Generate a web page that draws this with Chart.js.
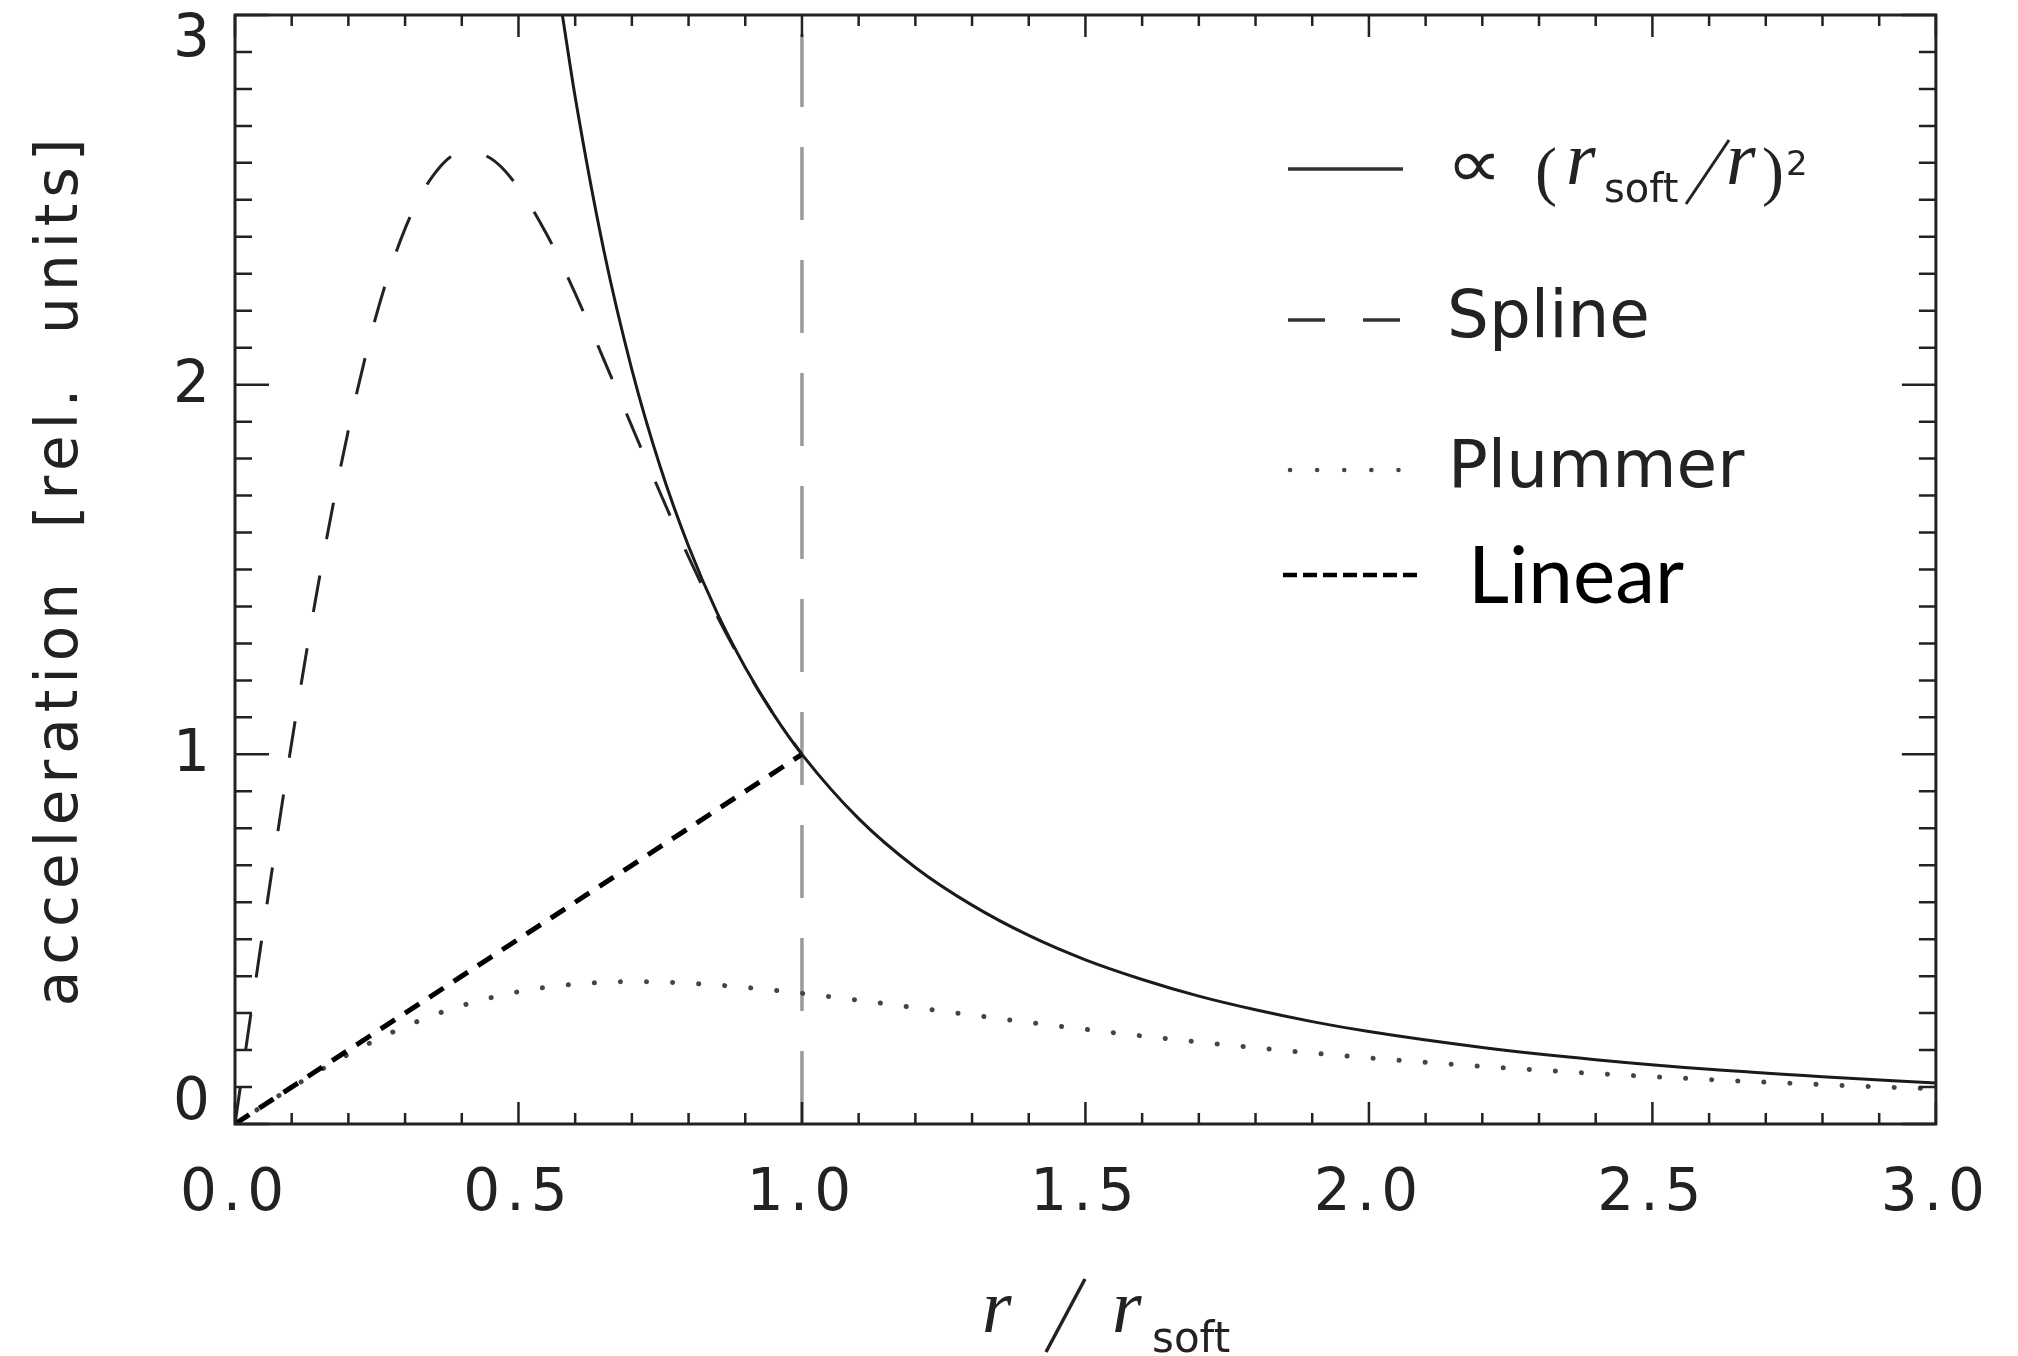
<!DOCTYPE html>
<html>
<head>
<meta charset="utf-8">
<title>Softened acceleration</title>
<script src="https://cdn.jsdelivr.net/npm/chart.js@4.4.1/dist/chart.umd.min.js"></script>
<style>
  html, body { margin: 0; padding: 0; background: #fff; }
  canvas { display: block; }
</style>
</head>
<body>
<canvas id="myChart" width="2018" height="1356"></canvas>
<script>
// r / r_soft and acceleration for each curve
const rPower = [0.5774, 0.6, 0.65, 0.7, 0.75, 0.8, 0.85, 0.9, 0.95, 1.0, 1.1, 1.2, 1.3, 1.4, 1.5, 1.6, 1.7, 1.8, 1.9, 2.0, 2.2, 2.4, 2.6, 2.8, 3.0];
const aPower = [3.0, 2.778, 2.367, 2.041, 1.778, 1.563, 1.384, 1.235, 1.108, 1.0, 0.826, 0.694, 0.592, 0.510, 0.444, 0.391, 0.346, 0.309, 0.277, 0.250, 0.207, 0.174, 0.148, 0.128, 0.111];

const rSpline = [0, 0.02, 0.05, 0.1, 0.15, 0.2, 0.25, 0.3, 0.35, 0.4, 0.45, 0.5, 0.55, 0.6, 0.65, 0.7, 0.75, 0.8, 0.85, 0.9, 0.95, 1.0];
const aSpline = [0, 0.213, 0.529, 1.032, 1.487, 1.877, 2.192, 2.422, 2.567, 2.628, 2.613, 2.533, 2.406, 2.247, 2.070, 1.887, 1.707, 1.534, 1.375, 1.233, 1.108, 1.0];

const rPlummer = [0, 0.1, 0.2, 0.3, 0.4, 0.5, 0.6, 0.7, 0.8, 0.9, 1.0, 1.2, 1.4, 1.6, 1.8, 2.0, 2.2, 2.4, 2.6, 2.8, 3.0];
const aPlummer = [0, 0.0985, 0.1886, 0.2636, 0.3202, 0.3578, 0.3783, 0.3849, 0.3809, 0.3696, 0.3536, 0.3149, 0.2749, 0.2382, 0.2062, 0.1789, 0.1559, 0.1366, 0.1203, 0.1065, 0.0949];

const rLinear = [0, 1];
const aLinear = [0, 1];

const rSoft = [1, 1];
const aSoft = [0, 3];

const yTickLabels = ['0', '1', '2', '3'];

const SANS = '"DejaVu Sans", sans-serif';
const SERIF = '"Liberation Serif", "DejaVu Serif", serif';

function pts(xs, ys) {
    return xs.map((x, i) => ({ x: x, y: ys[i] }));
}

// wider letter spacing for the axis text drawn by the scales
const spacing = {
    id: 'spacing',
    beforeDraw(chart) { chart.ctx.letterSpacing = '6px'; },
    beforeDatasetsDraw(chart) { chart.ctx.letterSpacing = '0px'; }
};

// box with inward ticks on all four sides, y labels, x title and legend
const frame = {
    id: 'frame',
    afterDraw(chart) {
        const ctx = chart.ctx;
        const a = chart.chartArea;
        const xs = chart.scales.x;
        const ys = chart.scales.y;
        ctx.save();
        ctx.strokeStyle = '#222';
        ctx.lineWidth = 3;
        ctx.strokeRect(a.left, a.top, a.right - a.left, a.bottom - a.top);

        ctx.lineWidth = 2.5;
        ctx.beginPath();
        for (let i = 0; i <= 30; i++) {
            const v = i / 10;
            const px = xs.getPixelForValue(v);
            const lx = i % 5 === 0 ? 22 : 11;
            ctx.moveTo(px, a.bottom); ctx.lineTo(px, a.bottom - lx);
            ctx.moveTo(px, a.top); ctx.lineTo(px, a.top + lx);
            const py = ys.getPixelForValue(v);
            const ly = i % 10 === 0 ? 34 : 17;
            ctx.moveTo(a.left, py); ctx.lineTo(a.left + ly, py);
            ctx.moveTo(a.right, py); ctx.lineTo(a.right - ly, py);
        }
        ctx.stroke();

        // y tick labels, kept inside the box height
        ctx.fillStyle = '#222';
        ctx.font = '58px ' + SANS;
        ctx.textAlign = 'right';
        ctx.textBaseline = 'middle';
        yTickLabels.forEach(t => {
            let py = ys.getPixelForValue(Number(t));
            py = Math.min(Math.max(py + 2, a.top + 26), a.bottom - 20);
            ctx.fillText(t, 210, py);
        });

        // x axis title: r / r_soft
        ctx.textAlign = 'left';
        ctx.textBaseline = 'alphabetic';
        ctx.font = 'italic 76px ' + SERIF;
        ctx.fillText('r', 982, 1332);
        ctx.fillText('r', 1112, 1332);
        ctx.font = '42px ' + SANS;
        ctx.fillText('soft', 1152, 1352);
        ctx.lineWidth = 3.5;
        ctx.beginPath();
        ctx.moveTo(1046, 1352); ctx.lineTo(1085, 1279);
        ctx.stroke();

        // legend samples
        const sample = (x0, x1, y, dash, w, color, cap) => {
            ctx.save();
            ctx.strokeStyle = color;
            ctx.lineWidth = w;
            ctx.lineCap = cap || 'butt';
            ctx.setLineDash(dash);
            ctx.beginPath();
            ctx.moveTo(x0, y); ctx.lineTo(x1, y);
            ctx.stroke();
            ctx.restore();
        };
        sample(1288, 1403, 169, [], 3.5, '#333');
        sample(1288, 1403, 320, [37, 38], 3.5, '#333');
        sample(1290, 1403, 470, [0.1, 27], 4.5, '#444', 'round');
        sample(1283, 1420, 575, [14, 6], 4.5, '#000');

        // legend texts; the proportional sign is sized from its ink box
        ctx.fillStyle = '#222';
        ctx.font = '100px ' + SANS;
        ctx.textBaseline = 'alphabetic';
        const m = ctx.measureText('\u221d');
        const gw = m.actualBoundingBoxLeft + m.actualBoundingBoxRight;
        const gh = m.actualBoundingBoxAscent + m.actualBoundingBoxDescent;
        const k = 40 / gw;
        ctx.save();
        ctx.translate(1454, 166);
        ctx.scale(k, Math.min(k, 26 / gh));
        ctx.fillText('\u221d', m.actualBoundingBoxLeft, (m.actualBoundingBoxAscent - m.actualBoundingBoxDescent) / 2);
        ctx.restore();

        ctx.font = '66px ' + SERIF;
        ctx.fillText('(', 1535, 193);
        ctx.fillText(')', 1762, 193);
        ctx.font = 'italic 76px ' + SERIF;
        ctx.fillText('r', 1566, 184);
        ctx.fillText('r', 1726, 184);
        ctx.font = '40px ' + SANS;
        ctx.fillText('soft', 1604, 202);
        ctx.font = '34px ' + SANS;
        ctx.fillText('2', 1786, 175);
        ctx.lineWidth = 3;
        ctx.beginPath();
        ctx.moveTo(1686, 204); ctx.lineTo(1729, 140);
        ctx.stroke();

        ctx.font = '66px ' + SANS;
        ctx.fillText('Spline', 1447, 337);
        ctx.fillText('Plummer', 1448, 487);
        ctx.fillStyle = '#000';
        ctx.font = '80px Lato, ' + SANS;
        ctx.fillText('Linear', 1468, 603);
        ctx.restore();
    }
};

const data = {
    datasets: [
        {
            label: 'power',
            data: pts(rPower, aPower),
            borderColor: '#1a1a1a',
            borderWidth: 3,
            cubicInterpolationMode: 'monotone'
        },
        {
            label: 'Linear',
            data: pts(rLinear, aLinear),
            borderColor: '#000',
            borderWidth: 5,
            borderDash: [17, 12]
        },
        {
            label: 'Spline',
            data: pts(rSpline, aSpline),
            borderColor: '#222',
            borderWidth: 3,
            borderDash: [37, 37],
            cubicInterpolationMode: 'monotone'
        },
        {
            label: 'Plummer',
            data: pts(rPlummer, aPlummer),
            borderColor: '#444',
            borderWidth: 5,
            borderDash: [0.1, 26],
            borderCapStyle: 'round',
            cubicInterpolationMode: 'monotone'
        },
        {
            label: 'r_soft',
            data: pts(rSoft, aSoft),
            borderColor: '#9a9a9a',
            borderWidth: 3.5,
            borderDash: [73, 40]
        }
    ]
};

const config = {
    type: 'scatter',
    data: data,
    options: {
        responsive: false,
        animation: false,
        showLine: true,
        elements: { point: { radius: 0 } },
        layout: { padding: { top: 15, right: 62, left: 0, bottom: 0 } },
        scales: {
            x: {
                type: 'linear',
                min: 0,
                max: 3,
                grid: { display: false, drawTicks: false },
                border: { display: false },
                ticks: {
                    stepSize: 0.5,
                    padding: 36,
                    color: '#222',
                    font: { family: SANS, size: 58 },
                    callback: v => v.toFixed(1)
                },
                afterFit: s => { s.height = 232; }
            },
            y: {
                type: 'linear',
                min: 0,
                max: 3,
                grid: { display: false, drawTicks: false },
                border: { display: false },
                ticks: { display: false },
                title: {
                    display: true,
                    text: 'acceleration  [rel.  units]',
                    color: '#222',
                    font: { family: SANS, size: 58 },
                    padding: { top: 27, bottom: 0 }
                },
                afterFit: s => { s.width = 235; }
            }
        },
        plugins: {
            legend: { display: false },
            tooltip: { enabled: false }
        }
    },
    plugins: [spacing, frame]
};

var myChart = new Chart(document.getElementById('myChart'), config);
</script>
</body>
</html>
